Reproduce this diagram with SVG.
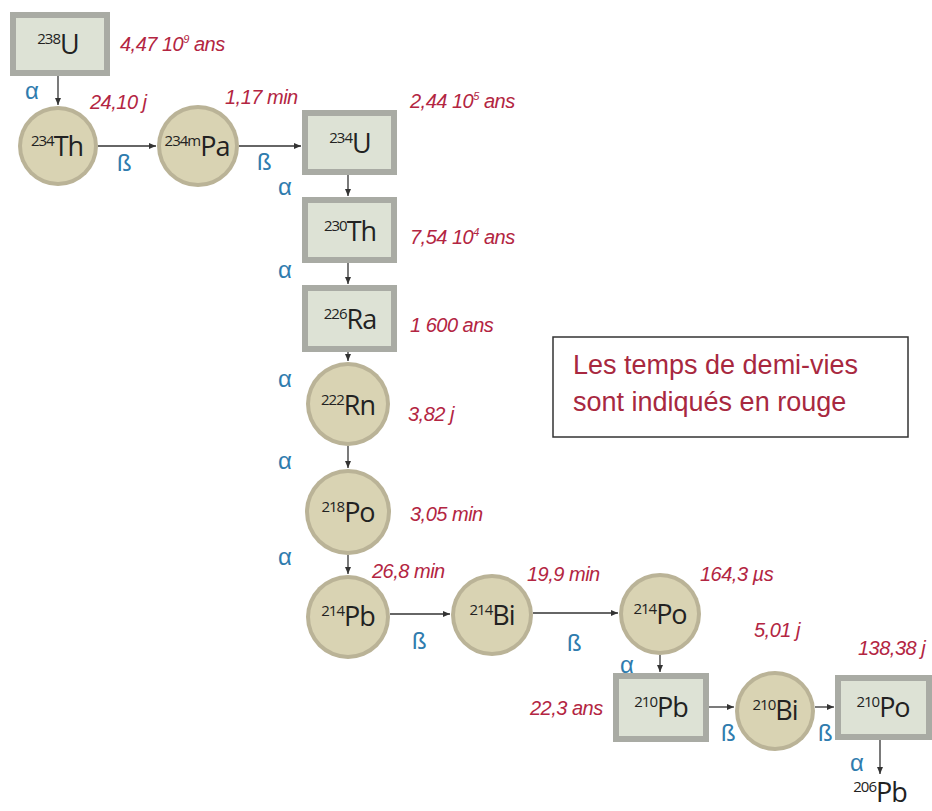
<svg xmlns="http://www.w3.org/2000/svg" width="932" height="811" viewBox="0 0 932 811">
<style>
.bo{fill:#a9aba4}
.bi{fill:#dde2d5}
.co{fill:#bab397}
.ci{fill:#d9d3b3}
.nt{font-family:"Open Sans","Liberation Sans",sans-serif;font-size:27px;fill:#222;text-anchor:middle;letter-spacing:-1px}
.sup{font-size:15px}
.hl{font-family:"Liberation Sans",Arial,sans-serif;font-style:italic;font-size:20px;fill:#b32542;letter-spacing:-0.5px}
.hs{font-size:11px}
.dl{font-family:"Liberation Sans",Arial,sans-serif;font-size:24px;fill:#2f7cae}
.cn{stroke:#333;stroke-width:1.3;fill:none;marker-end:url(#ah)}
.lg{font-family:"Liberation Sans",Arial,sans-serif;font-size:27px;fill:#a8283f}
</style>
<defs>
<marker id="ah" markerWidth="8" markerHeight="8" refX="7" refY="4" orient="auto" markerUnits="userSpaceOnUse">
<path d="M0,1 L7,4 L0,7 z" fill="#333"/>
</marker>
</defs>

<g id="connectors">
<line class="cn" x1="58" y1="76" x2="58" y2="105"/>
<line class="cn" x1="98" y1="146" x2="156" y2="146"/>
<line class="cn" x1="239" y1="146" x2="301" y2="146"/>
<line class="cn" x1="348" y1="175" x2="348" y2="196"/>
<line class="cn" x1="348" y1="263" x2="348" y2="284"/>
<line class="cn" x1="348" y1="352" x2="348" y2="361"/>
<line class="cn" x1="348" y1="446" x2="348" y2="468"/>
<line class="cn" x1="348" y1="555" x2="348" y2="574"/>
<line class="cn" x1="390" y1="614" x2="450" y2="614"/>
<line class="cn" x1="533" y1="613" x2="618" y2="613"/>
<line class="cn" x1="660" y1="655" x2="660" y2="672"/>
<line class="cn" x1="709" y1="707" x2="734" y2="707"/>
<line class="cn" x1="815" y1="707" x2="834" y2="707"/>
<line class="cn" x1="880" y1="740" x2="880" y2="774"/>
</g>

<g id="U238">
<rect class="bo" x="10" y="12" width="100" height="64"/>
<rect class="bi" x="16" y="18" width="88" height="52"/>
<text class="nt" x="58" y="54"><tspan class="sup" dy="-10">238</tspan><tspan dy="10">U</tspan></text>
</g>
<g id="Th234">
<circle class="co" cx="58" cy="146" r="40"/>
<circle class="ci" cx="58" cy="146" r="36"/>
<text class="nt" x="57" y="156"><tspan class="sup" dy="-10">234</tspan><tspan dy="10">Th</tspan></text>
</g>
<g id="Pa234m">
<circle class="co" cx="198" cy="146" r="41"/>
<circle class="ci" cx="198" cy="146" r="37"/>
<text class="nt" x="197" y="156"><tspan class="sup" dy="-10">234m</tspan><tspan dy="10">Pa</tspan></text>
</g>
<g id="U234">
<rect class="bo" x="302" y="110" width="95" height="65"/>
<rect class="bi" x="308" y="116" width="83" height="53"/>
<text class="nt" x="350" y="153"><tspan class="sup" dy="-10">234</tspan><tspan dy="10">U</tspan></text>
</g>
<g id="Th230">
<rect class="bo" x="302" y="197" width="95" height="66"/>
<rect class="bi" x="308" y="203" width="83" height="54"/>
<text class="nt" x="350" y="241"><tspan class="sup" dy="-10">230</tspan><tspan dy="10">Th</tspan></text>
</g>
<g id="Ra226">
<rect class="bo" x="302" y="285" width="95" height="67"/>
<rect class="bi" x="308" y="291" width="83" height="55"/>
<text class="nt" x="350" y="329"><tspan class="sup" dy="-10">226</tspan><tspan dy="10">Ra</tspan></text>
</g>
<g id="Rn222">
<circle class="co" cx="348" cy="404" r="42"/>
<circle class="ci" cx="348" cy="404" r="38"/>
<text class="nt" x="348" y="415"><tspan class="sup" dy="-10">222</tspan><tspan dy="10">Rn</tspan></text>
</g>
<g id="Po218">
<circle class="co" cx="348" cy="512" r="43"/>
<circle class="ci" cx="348" cy="512" r="39"/>
<text class="nt" x="348" y="522"><tspan class="sup" dy="-10">218</tspan><tspan dy="10">Po</tspan></text>
</g>
<g id="Pb214">
<circle class="co" cx="348" cy="617" r="42"/>
<circle class="ci" cx="348" cy="617" r="38"/>
<text class="nt" x="348" y="626"><tspan class="sup" dy="-10">214</tspan><tspan dy="10">Pb</tspan></text>
</g>
<g id="Bi214">
<circle class="co" cx="492" cy="615" r="41"/>
<circle class="ci" cx="492" cy="615" r="37"/>
<text class="nt" x="492" y="625"><tspan class="sup" dy="-10">214</tspan><tspan dy="10">Bi</tspan></text>
</g>
<g id="Po214">
<circle class="co" cx="660" cy="614" r="41"/>
<circle class="ci" cx="660" cy="614" r="37"/>
<text class="nt" x="660" y="624"><tspan class="sup" dy="-10">214</tspan><tspan dy="10">Po</tspan></text>
</g>
<g id="Pb210">
<rect class="bo" x="613" y="673" width="96" height="69"/>
<rect class="bi" x="619" y="679" width="84" height="57"/>
<text class="nt" x="661" y="717"><tspan class="sup" dy="-10">210</tspan><tspan dy="10">Pb</tspan></text>
</g>
<g id="Bi210">
<circle class="co" cx="775" cy="711" r="40"/>
<circle class="ci" cx="775" cy="711" r="36"/>
<text class="nt" x="775" y="720"><tspan class="sup" dy="-10">210</tspan><tspan dy="10">Bi</tspan></text>
</g>
<g id="Po210">
<rect class="bo" x="835" y="675" width="97" height="65"/>
<rect class="bi" x="841" y="681" width="85" height="53"/>
<text class="nt" x="883" y="717"><tspan class="sup" dy="-10">210</tspan><tspan dy="10">Po</tspan></text>
</g>
<g id="Pb206">
<text class="nt" x="880" y="802"><tspan class="sup" dy="-10">206</tspan><tspan dy="10">Pb</tspan></text>
</g>

<g id="decay-labels">
<text class="dl" x="25" y="99">α</text>
<text class="dl" x="117" y="171">ß</text>
<text class="dl" x="257" y="170">ß</text>
<text class="dl" x="278" y="195">α</text>
<text class="dl" x="278" y="278">α</text>
<text class="dl" x="278" y="387">α</text>
<text class="dl" x="278" y="469">α</text>
<text class="dl" x="278" y="565">α</text>
<text class="dl" x="412" y="649">ß</text>
<text class="dl" x="567" y="651">ß</text>
<text class="dl" x="620" y="673">α</text>
<text class="dl" x="721" y="741">ß</text>
<text class="dl" x="818" y="741">ß</text>
<text class="dl" x="850" y="771">α</text>
</g>

<g id="half-lives">
<text class="hl" x="120" y="51">4,47 10<tspan class="hs" dy="-8">9</tspan><tspan dy="8"> ans</tspan></text>
<text class="hl" x="90" y="109">24,10 j</text>
<text class="hl" x="225" y="104">1,17 min</text>
<text class="hl" x="410" y="108">2,44 10<tspan class="hs" dy="-8">5</tspan><tspan dy="8"> ans</tspan></text>
<text class="hl" x="410" y="244">7,54 10<tspan class="hs" dy="-8">4</tspan><tspan dy="8"> ans</tspan></text>
<text class="hl" x="410" y="332">1 600 ans</text>
<text class="hl" x="408" y="421">3,82 j</text>
<text class="hl" x="410" y="521">3,05 min</text>
<text class="hl" x="372" y="578">26,8 min</text>
<text class="hl" x="527" y="581">19,9 min</text>
<text class="hl" x="700" y="581">164,3 µs</text>
<text class="hl" x="754" y="637">5,01 j</text>
<text class="hl" x="858" y="655">138,38 j</text>
<text class="hl" x="530" y="715">22,3 ans</text>
</g>

<g id="legend">
<rect x="553" y="337" width="355" height="100" fill="#fff" stroke="#333" stroke-width="1.5"/>
<text class="lg" x="573" y="374">Les temps de demi-vies</text>
<text class="lg" x="573" y="411">sont indiqués en rouge</text>
</g>
</svg>
